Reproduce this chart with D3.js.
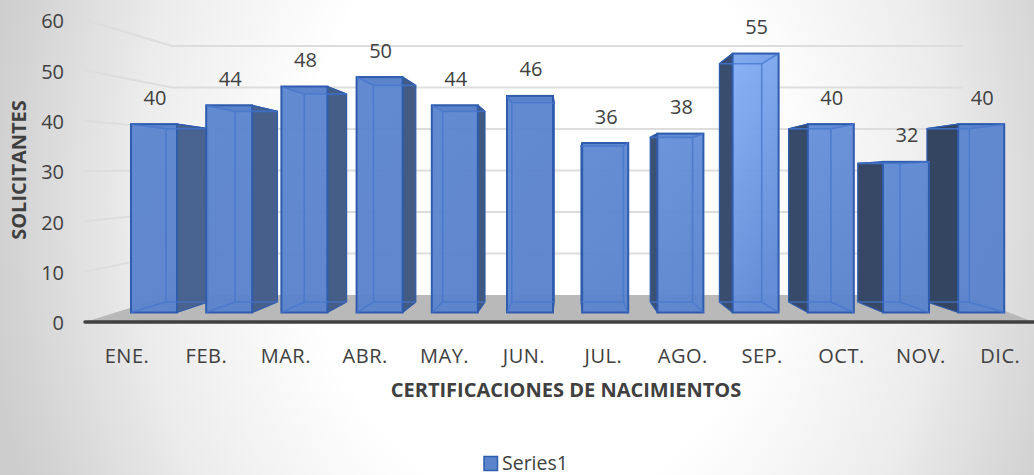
<!DOCTYPE html>
<html><head><meta charset="utf-8">
<script src="https://cdn.jsdelivr.net/npm/d3@7"></script>
<style>
html,body{margin:0;padding:0;background:#fff}
svg{display:block}
text{font-family:"Open Sans",sans-serif;fill:#404040}
.domain{display:none}
.tick line{display:none}
</style></head><body>
<svg id="c" width="1034" height="475"></svg>
<script>
const categories=["ENE.","FEB.","MAR.","ABR.","MAY.","JUN.","JUL.","AGO.","SEP.","OCT.","NOV.","DIC."];
const values=[40,44,48,50,44,46,36,38,55,40,32,40];
const yTicks=[0,10,20,30,40,50,60];
const seriesName="Series1";
const xTitle="CERTIFICACIONES DE NACIMIENTOS";
const yTitle="SOLICITANTES";

const svg=d3.select("#c");
const defs=svg.append("defs");
const bg=defs.append("radialGradient").attr("id","bg").attr("gradientUnits","userSpaceOnUse")
  .attr("cx",540).attr("cy",200).attr("r",560).attr("gradientTransform","translate(540 200) scale(1 1.3) translate(-540 -200)");
[[0,"#ffffff"],[0.42,"#ffffff"],[0.72,"#ececec"],[1,"#cdcdcd"]].forEach(s=>bg.append("stop").attr("offset",s[0]).attr("stop-color",s[1]));
svg.append("rect").attr("width",1034).attr("height",475).attr("fill","url(#bg)");

// scales
const yFront=d3.scaleLinear().domain([0,60]).range([322,20]);
const yBack=d3.scaleLinear().domain([0,60]).range([295,46]);
const yBar=d3.scaleLinear().domain([0,60]).range([312.5,30]);
const xBar=d3.scaleBand().domain(categories).range([116.4,1018.8]).paddingInner(0.388).paddingOuter(0.194);
const xCat=d3.scaleBand().domain(categories).range([87.3,1040]);
const vx=567.6,vy=181,k=0.92;
const bx=x=>vx+k*(x-vx), by=y=>vy+k*(y-vy);

// walls
const wallL=85,wallBL=172,wallBR=963;
svg.append("g").selectAll("path").data(yTicks.filter(d=>d>0)).join("path")
  .attr("d",d=>`M${wallL},${yFront(d)}L${wallBL},${yBack(d)}L${wallBR},${yBack(d)}`)
  .attr("fill","none").attr("stroke","#dddddd").attr("stroke-width",2);
svg.append("path").attr("d",`M${wallL},${yFront(0)}L${wallBL},${yBack(0)}L${wallBR},${yBack(0)}L1034,${yFront(0)}Z`).attr("fill","#b9b9b9");
svg.append("line").attr("x1",wallL).attr("x2",1034).attr("y1",yFront(0)).attr("y2",yFront(0)).attr("stroke","#404040").attr("stroke-width",3.5).attr("stroke-linecap","round");

// bars: outer ones first so that those nearer the centre overlap them
const bars=values.map((v,i)=>({v,i,c:categories[i]}));
bars.sort((a,b)=>Math.abs(xBar(b.c)+xBar.bandwidth()/2-vx)-Math.abs(xBar(a.c)+xBar.bandwidth()/2-vx));
const stroke="#2f5cad";
const peak=categories.indexOf("SEP.");
bars.forEach(d=>{
  const x0=xBar(d.c),x1=x0+xBar.bandwidth(),y0=yBar(d.v),y1=yBar(0);
  const g=svg.append("g");
  const left=(x0+x1)/2<vx;
  const sx=left?x1:x0;
  const t=d.i/(categories.length-1);
  const gid="f"+d.i;
  const near=d.i===peak?1:Math.max(0,0.45-Math.abs(d.i-peak)*0.18);
  const gr=defs.append("linearGradient").attr("id",gid).attr("x1",0).attr("x2",0.3).attr("y1",0).attr("y2",1);
  gr.append("stop").attr("offset",0).attr("stop-color",d3.interpolateRgb("#5c86d0","#86b0f6")(near));
  gr.append("stop").attr("offset",1).attr("stop-color",d3.interpolateRgb("#5a83cc","#5f8ad6")(near));
  const side=d3.interpolateRgb("#48638f","#344562")(t);
  g.append("path").attr("d",`M${sx},${y0}L${bx(sx)},${by(y0)}L${bx(sx)},${by(y1)}L${sx},${y1}Z`)
    .attr("fill",side).attr("stroke",stroke).attr("stroke-width",1.2).attr("stroke-linejoin","round");
  g.append("path").attr("d",`M${x0},${y0}L${x1},${y0}L${bx(x1)},${by(y0)}L${bx(x0)},${by(y0)}Z`)
    .attr("fill",side).attr("stroke",stroke).attr("stroke-width",1.2).attr("stroke-linejoin","round");
  g.append("rect").attr("x",x0).attr("y",y0).attr("width",x1-x0).attr("height",y1-y0)
    .attr("fill",`url(#${gid})`).attr("fill-opacity",0.96).attr("stroke",stroke).attr("stroke-width",2);
  const o=left?x0:x1;
  const inner=`M${bx(o)},${by(y0)}L${bx(o)},${by(y1)}L${bx(sx)},${by(y1)}M${bx(o)},${by(y1)}L${o},${y1}M${bx(o)},${by(y0)}L${o},${y0}M${bx(o)},${by(y0)}L${bx(sx)},${by(y0)}`;
  g.append("path").attr("d",inner).attr("fill","none").attr("stroke","#4676cc").attr("stroke-width",1.6).attr("stroke-opacity",0.75);
});

// data labels
svg.append("g").selectAll("text").data(values).join("text")
  .attr("x",(d,i)=>xBar(categories[i])+xBar.bandwidth()/2+1)
  .attr("y",d=>yBar(d)-19.5).attr("text-anchor","middle").attr("font-size",20).text(d=>d);

// axes
const ax=d3.axisLeft(yFront).tickValues(yTicks).tickSize(0).tickPadding(0);
const gy=svg.append("g").attr("transform","translate(64,1.5)").call(ax);
gy.selectAll("text").attr("font-size",20).style("font-family",'"Open Sans",sans-serif').style("fill","#404040");
const gx=svg.append("g").attr("transform","translate(0,349)").call(d3.axisBottom(xCat).tickSize(0).tickPadding(0));
gx.selectAll("text").attr("font-size",20).style("font-family",'"Open Sans",sans-serif').style("fill","#404040").style("letter-spacing","0.5px");

// titles
svg.append("text").attr("x",566).attr("y",397).attr("text-anchor","middle").attr("font-size",20).attr("font-weight",700).text(xTitle);
svg.append("text").attr("transform","translate(26,170) rotate(-90)").attr("text-anchor","middle").attr("font-size",20).attr("font-weight",700).text(yTitle);

// legend
svg.append("rect").attr("x",484).attr("y",456.5).attr("width",13.5).attr("height",14).attr("fill","#5b84cc").attr("stroke",stroke).attr("stroke-width",1.5);
svg.append("text").attr("x",502).attr("y",469.5).attr("font-size",19.5).text(seriesName);
</script></body></html>
